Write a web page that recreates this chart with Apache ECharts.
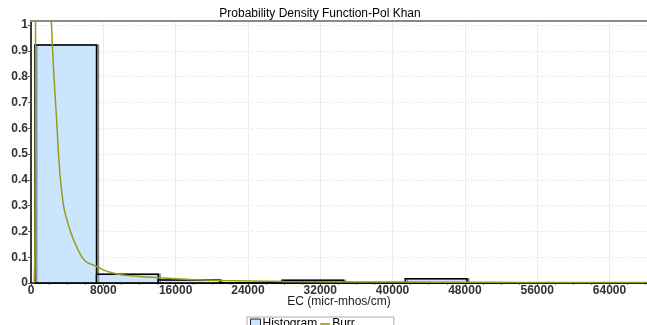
<!DOCTYPE html>
<html>
<head>
<meta charset="utf-8">
<script src="https://cdn.jsdelivr.net/npm/echarts@6/dist/echarts.min.js"></script>
<style>
html,body{margin:0;padding:0;background:#fff;}
#c{width:647px;height:325px;}
</style>
</head>
<body>
<div id="c"></div>
<script>
// Histogram bins (EC, micr-mhos/cm) and relative frequencies
var binEdges = [420, 7250, 14080, 20910, 27740, 34570, 41400, 48230, 55060, 61890, 68720];
var binHeights = [0.922, 0.034, 0.012, 0, 0.011, 0, 0.016, 0, 0, 0];
// Burr fitted density (scaled)
var burrX = [350, 420, 470, 520, 700, 1000, 1400, 1800, 2270, 2540, 2840, 3040, 3260, 3600, 3930, 4370, 4920, 5640, 6190, 7380, 8080, 8960, 10400, 14270, 17600, 20900, 28000, 36000, 45000, 55000, 68150];
var burrY = [0, 0.1, 0.6, 1.2, 2.6, 2.9, 2.2, 1.45, 1.0, 0.8, 0.63, 0.5, 0.4, 0.3, 0.25, 0.2, 0.15, 0.1, 0.08, 0.063, 0.05, 0.04, 0.03, 0.02, 0.014, 0.01, 0.006, 0.004, 0.003, 0.002, 0.0015];
var xTickInterval = 8000;
var yTickInterval = 0.1;

var histData = [];
for (var i = 0; i < binHeights.length; i++) histData.push([binEdges[i], binEdges[i + 1], binHeights[i]]);
var burrData = burrX.map(function (x, i) { return [x, burrY[i]]; });

var FONT = 'Liberation Sans, Arial, sans-serif';
var chart = echarts.init(document.getElementById('c'), null, {renderer: 'canvas'});
chart.setOption({
  animation: false,
  backgroundColor: '#fff',
  title: {
    text: 'Probability Density Function-Pol Khan',
    left: 320, textAlign: 'center', top: 8,
    padding: 0,
    textStyle: {fontFamily: FONT, fontSize: 12, fontWeight: 'normal', color: '#000'}
  },
  legend: {
    left: 247, top: 317,
    borderColor: '#aaa', borderWidth: 1,
    padding: [1, 39, 2, 3],
    itemGap: 3, itemWidth: 10, itemHeight: 10,
    textStyle: {fontFamily: FONT, fontSize: 12, color: '#000', padding: [0, 0, 0, -3]},
    data: [
      {name: 'Histogram', icon: 'rect', itemStyle: {color: '#cce5ff', borderColor: '#222', borderWidth: 1}},
      {name: 'Burr', icon: 'path://M0,0H12V2H0Z', itemStyle: {color: '#9a9a1a'}}
    ]
  },
  grid: {left: 31, right: 0, top: 21, bottom: 42, containLabel: false},
  xAxis: [{
    type: 'value', min: 0, max: 68150, interval: xTickInterval,
    name: 'EC (micr-mhos/cm)', nameLocation: 'middle', nameGap: 13, nameMoveOverlap: false,
    nameTextStyle: {fontFamily: FONT, fontSize: 12, color: '#222', verticalAlign: 'top'},
    axisLine: {show: true, lineStyle: {color: '#000', width: 1.5}},
    axisTick: {show: true, length: 3, lineStyle: {color: '#555'}},
    minorTick: {show: true, splitNumber: 4, length: 2, lineStyle: {color: '#888'}},
    axisLabel: {showMaxLabel: false, margin: 2, fontFamily: FONT, fontSize: 12, fontWeight: 'bold', color: '#333',
      formatter: function (v) { return String(v); }},
    splitLine: {show: true, lineStyle: {color: '#ececec', width: 1}}
  }, {
    type: 'value', position: 'top', min: 0, max: 68150,
    axisLine: {show: true, onZero: false, lineStyle: {color: '#888', width: 2}},
    axisTick: {show: false}, axisLabel: {show: false}, splitLine: {show: false}
  }],
  yAxis: {
    type: 'value', min: 0, max: 1.0155, interval: yTickInterval,
    axisLine: {show: true, lineStyle: {color: '#000', width: 1.5}},
    axisTick: {show: true, length: 3, lineStyle: {color: '#555'}},
    axisLabel: {showMaxLabel: false, margin: 3, fontFamily: FONT, fontSize: 12, fontWeight: 'bold', color: '#333'},
    splitLine: {show: true, lineStyle: {color: '#ececec', type: [3, 2], width: 1}}
  },
  series: [{
    name: 'Histogram', type: 'custom', xAxisIndex: 0,
    encode: {x: [0, 1], y: 2},
    data: histData,
    itemStyle: {color: '#cce5ff', borderColor: '#000'},
    renderItem: function (params, api) {
      var p0 = api.coord([api.value(0), api.value(2)]);
      var p1 = api.coord([api.value(1), 0]);
      return {
        type: 'rect',
        shape: {x: p0[0], y: p0[1], width: p1[0] - p0[0], height: p1[1] - p0[1]},
        style: {fill: '#cce5ff', stroke: '#000', lineWidth: 1.5,
          shadowColor: 'rgba(0,0,0,0.35)', shadowOffsetX: 2, shadowOffsetY: 0, shadowBlur: 0}
      };
    }
  }, {
    name: 'Burr', type: 'line', xAxisIndex: 0,
    data: burrData, smooth: 0.25,
    showSymbol: false, clip: true,
    lineStyle: {color: '#9a9a1a', width: 1.5},
    itemStyle: {color: '#9a9a1a'}
  }]
});
</script>
</body>
</html>
